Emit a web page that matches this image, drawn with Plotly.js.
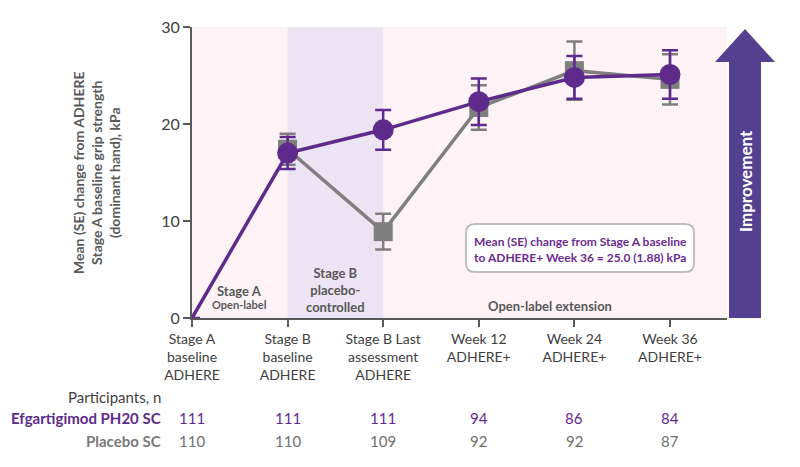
<!DOCTYPE html>
<html>
<head>
<meta charset="utf-8">
<script src="https://cdn.plot.ly/plotly-3.0.1.min.js"></script>
<style>
  html, body { margin: 0; padding: 0; background: #ffffff; }
  #chart { width: 800px; height: 467px; }
</style>
</head>
<body>
<div id="chart"></div>
<script>
// ---- Data ----
const categories = [
  "Stage A<br>baseline<br>ADHERE",
  "Stage B<br>baseline<br>ADHERE",
  "Stage B Last<br>assessment<br>ADHERE",
  "Week 12<br>ADHERE+",
  "Week 24<br>ADHERE+",
  "Week 36<br>ADHERE+"
];
const xIndex = [0, 1, 2, 3, 4, 5];

const efgMean = [0, 17.0, 19.4, 22.3, 24.8, 25.1];
const efgSE   = [0, 1.65, 2.05, 2.4, 2.2, 2.5];

const pboMean = [null, 17.4, 8.9, 21.7, 25.5, 24.6];
const pboSE   = [0, 1.6, 1.85, 2.3, 3.0, 2.6];

const efgN = [111, 111, 111, 94, 86, 84];
const pboN = [110, 110, 109, 92, 92, 87];

const yTicks = [0, 10, 20, 30];

// ---- Styles ----
const PURPLE = "#5e2a8c";
const GREY = "#7f7f7f";
const TEXT = "#404040";
const FONT = "Lato, 'Open Sans', sans-serif";

const traces = [
  {
    x: xIndex, y: pboMean, type: "scatter", mode: "lines+markers",
    line: { color: GREY, width: 3.5 },
    marker: { symbol: "square", size: 19, color: GREY, opacity: 1, line: { width: 0 } },
    error_y: { type: "data", array: pboSE, visible: true, color: GREY, thickness: 2.5, width: 8 },
    cliponaxis: false, hoverinfo: "skip", showlegend: false
  },
  {
    x: xIndex, y: efgMean, type: "scatter", mode: "lines+markers",
    line: { color: PURPLE, width: 3.5 },
    marker: { symbol: "circle", size: efgMean.map((v, i) => i === 0 ? 0 : 21), color: PURPLE,
              opacity: 1, line: { width: 0 } },
    error_y: { type: "data", array: efgSE, visible: true, color: PURPLE, thickness: 2.5, width: 8 },
    cliponaxis: false, hoverinfo: "skip", showlegend: false
  }
];

// paper-coordinate helpers based on plot area (l=192, r=727, t=27, b=318)
const L = 192, R = 727, T = 27, B = 318;
const px = v => (v - L) / (R - L);
const py = v => (B - v) / (B - T);

const annotations = [];
function note(x, y, text, font, extra) {
  annotations.push(Object.assign({
    xref: "paper", yref: "paper", x: px(x), y: py(y), showarrow: false,
    xanchor: "center", yanchor: "middle", text: text, font: font
  }, extra || {}));
}

// y-axis title
note(96, 173, "<b>Mean (SE) change from ADHERE<br>Stage A baseline grip strength<br>(dominant hand), kPa</b>",
  { family: FONT, size: 14, color: "#595959" }, { textangle: -90 });

// region labels
note(239, 291, "<b>Stage A</b>", { family: FONT, size: 13, color: "#595959" });
note(239, 304, "<b>Open-label</b>", { family: FONT, size: 11, color: "#595959" });
note(335, 290, "<b>Stage B<br>placebo-<br>controlled</b>", { family: FONT, size: 13, color: "#595959" });
note(550, 306, "<b>Open-label extension</b>", { family: FONT, size: 13, color: "#595959" });

// note box text
note(580, 249, "<b>Mean (SE) change from Stage A baseline<br>to ADHERE+ Week 36 = 25.0 (1.88) kPa</b>",
  { family: FONT, size: 12, color: "#6a2c91" });

// Improvement arrow text
note(745, 181, "<b>Improvement</b>", { family: FONT, size: 17, color: "#ffffff" }, { textangle: -90 });

// participants table
note(163, 397, "Participants, n", { family: FONT, size: 15, color: TEXT }, { xanchor: "right" });
note(163, 418, "<b>Efgartigimod PH20 SC</b>", { family: FONT, size: 15, color: PURPLE }, { xanchor: "right" });
note(163, 441, "<b>Placebo SC</b>", { family: FONT, size: 15, color: "#7a7a7a" }, { xanchor: "right" });
xIndex.forEach((xi, i) => {
  annotations.push({ xref: "x", yref: "paper", x: xi, y: py(418), showarrow: false,
    xanchor: "center", yanchor: "middle",
    text: String(efgN[i]), font: { family: FONT, size: 15, color: PURPLE } });
  annotations.push({ xref: "x", yref: "paper", x: xi, y: py(441), showarrow: false,
    xanchor: "center", yanchor: "middle",
    text: String(pboN[i]), font: { family: FONT, size: 15, color: "#707070" } });
});

// rounded box path (paper coords)
function roundedRect(x0, y0, x1, y1, r) {
  const rx = r / (R - L), ry = r / (B - T);
  const X0 = px(x0), X1 = px(x1), Yt = py(y0), Yb = py(y1);
  return `M ${X0 + rx} ${Yt} L ${X1 - rx} ${Yt} Q ${X1} ${Yt} ${X1} ${Yt - ry} ` +
         `L ${X1} ${Yb + ry} Q ${X1} ${Yb} ${X1 - rx} ${Yb} L ${X0 + rx} ${Yb} ` +
         `Q ${X0} ${Yb} ${X0} ${Yb + ry} L ${X0} ${Yt - ry} Q ${X0} ${Yt} ${X0 + rx} ${Yt} Z`;
}

const shapes = [
  // Stage B shaded region
  { type: "rect", xref: "x", yref: "paper", x0: 1, x1: 2, y0: 0, y1: 1,
    fillcolor: "#ece3f3", line: { width: 0 }, layer: "below" },
  // note box
  { type: "path", xref: "paper", yref: "paper", path: roundedRect(466, 224, 694, 272, 9),
    fillcolor: "#ffffff", line: { color: "#bdbdbd", width: 2 }, layer: "below" },
  // improvement arrow
  { type: "path", xref: "paper", yref: "paper",
    path: `M ${px(729)} ${py(318)} L ${px(729)} ${py(62)} L ${px(715)} ${py(62)} L ${px(745)} ${py(29)} ` +
          `L ${px(775)} ${py(62)} L ${px(761)} ${py(62)} L ${px(761)} ${py(318)} Z`,
    fillcolor: "#53408f", line: { width: 0 }, layer: "above" }
];

const layout = {
  width: 800, height: 467,
  margin: { l: L, r: 800 - R, t: T, b: 467 - B, pad: 0 },
  paper_bgcolor: "#ffffff",
  plot_bgcolor: "#fdf3f7",
  font: { family: FONT, color: TEXT },
  showlegend: false,
  hovermode: false,
  xaxis: {
    range: [0, (R - L) / ((670 - 192) / 5)],
    tickvals: xIndex, ticktext: categories,
    showgrid: false, zeroline: false,
    showline: true, linecolor: "#595959", linewidth: 2,
    ticks: "outside", ticklen: 7, tickwidth: 2, tickcolor: "#595959",
    tickfont: { family: FONT, size: 14, color: TEXT },
    fixedrange: true
  },
  yaxis: {
    range: [0, 30],
    tickvals: yTicks,
    showgrid: false, zeroline: false,
    showline: true, linecolor: "#595959", linewidth: 2,
    ticks: "outside", ticklen: 7, tickwidth: 2, tickcolor: "#595959",
    tickfont: { family: FONT, size: 16, color: TEXT },
    fixedrange: true
  },
  shapes: shapes,
  annotations: annotations
};

Plotly.newPlot("chart", traces, layout, { displayModeBar: false, staticPlot: true });
</script>
</body>
</html>
